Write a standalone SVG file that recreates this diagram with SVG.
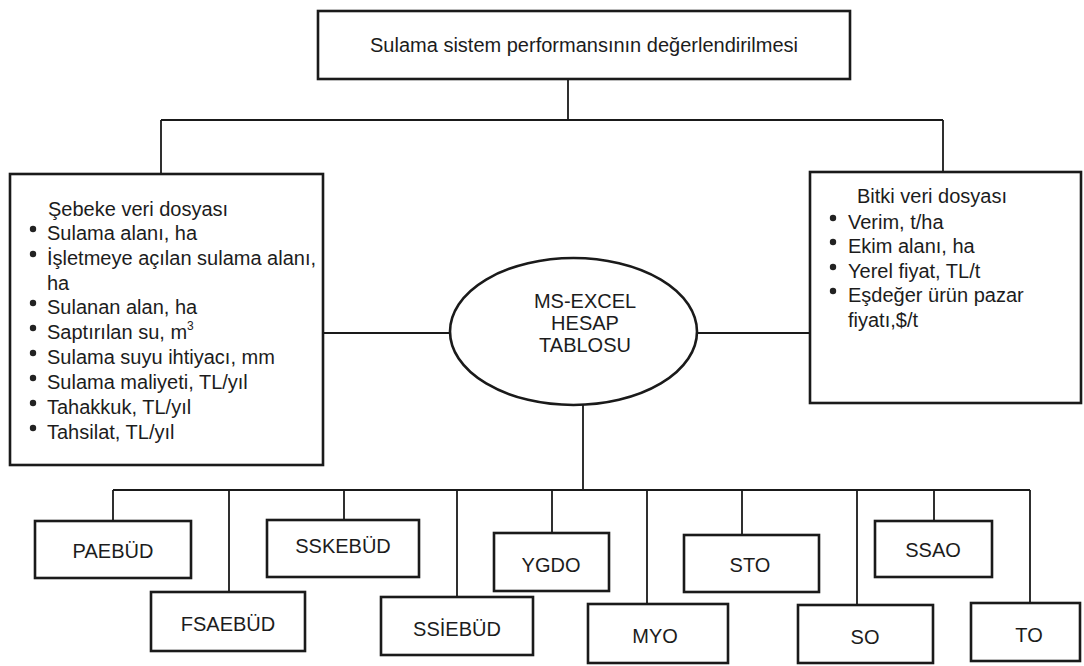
<svg xmlns="http://www.w3.org/2000/svg" width="1084" height="666" viewBox="0 0 1084 666">
<style>
text{font-family:"Liberation Sans",Arial,sans-serif;font-size:20px;fill:#1c1c1c}
.c{text-anchor:middle}
.box{fill:none;stroke:#1a1a1a;stroke-width:2.6}
.line{fill:none;stroke:#1a1a1a;stroke-width:1.8}
.bul{fill:#222}
</style>
<rect width="1084" height="666" fill="#fff"/>
<g id="connectors">
<path class="line" d="M568 79V120M161 120H943M161 120V173M943 120V172"/>
<path class="line" d="M323 333H450M697 333H810"/>
<path class="line" d="M583 405V490M113 490H1030"/>
<path class="line" d="M113 490V521M229 490V592M344 490V520M457 490V597M552 490V533M647 490V604M742 490V535M857 490V605M934 490V521M1030 490V603"/>
</g>
<g id="top">
<rect class="box" x="318" y="11" width="532" height="68" stroke-width="3"/>
<text class="c" x="584" y="52">Sulama sistem performansının değerlendirilmesi</text>
</g>
<g id="sebeke">
<rect class="box" x="10" y="174" width="313" height="291"/>
<text x="48" y="216">Şebeke veri dosyası</text>
<g class="bul">
<circle cx="33" cy="229" r="3.2"/><circle cx="33" cy="254" r="3.2"/><circle cx="33" cy="303" r="3.2"/><circle cx="33" cy="328" r="3.2"/><circle cx="33" cy="353" r="3.2"/><circle cx="33" cy="378" r="3.2"/><circle cx="33" cy="403" r="3.2"/><circle cx="33" cy="428" r="3.2"/>
</g>
<text x="47" y="240">Sulama alanı, ha</text>
<text x="47" y="265">İşletmeye açılan sulama alanı,</text>
<text x="47" y="290">ha</text>
<text x="47" y="314">Sulanan alan, ha</text>
<text x="47" y="339">Saptırılan su, m<tspan font-size="12" dy="-9">3</tspan></text>
<text x="47" y="364">Sulama suyu ihtiyacı, mm</text>
<text x="47" y="389">Sulama maliyeti, TL/yıl</text>
<text x="47" y="414">Tahakkuk, TL/yıl</text>
<text x="47" y="439">Tahsilat, TL/yıl</text>
</g>
<g id="bitki">
<rect class="box" x="810" y="172" width="271" height="231"/>
<text x="857" y="203">Bitki veri dosyası</text>
<g class="bul">
<circle cx="833" cy="218" r="3.2"/><circle cx="833" cy="242" r="3.2"/><circle cx="833" cy="267" r="3.2"/><circle cx="833" cy="291" r="3.2"/>
</g>
<text x="848" y="229">Verim, t/ha</text>
<text x="848" y="253">Ekim alanı, ha</text>
<text x="848" y="278">Yerel fiyat, TL/t</text>
<text x="848" y="302">Eşdeğer ürün pazar</text>
<text x="848" y="327">fiyatı,$/t</text>
</g>
<g id="excel">
<ellipse class="box" cx="573.5" cy="331.5" rx="123.5" ry="73.5" stroke-width="2.2"/>
<text class="c" x="585" y="308">MS-EXCEL</text>
<text class="c" x="585" y="330">HESAP</text>
<text class="c" x="585" y="352">TABLOSU</text>
</g>
<g id="paebud"><rect class="box" x="35" y="521" width="156" height="57"/><text class="c" x="113" y="558">PAEBÜD</text></g>
<g id="fsaebud"><rect class="box" x="151" y="592" width="154" height="59"/><text class="c" x="228" y="631">FSAEBÜD</text></g>
<g id="sskebud"><rect class="box" x="267" y="520" width="152" height="57"/><text class="c" x="343" y="553">SSKEBÜD</text></g>
<g id="ssiebud"><rect class="box" x="381" y="597" width="152" height="58"/><text class="c" x="457" y="636">SSİEBÜD</text></g>
<g id="ygdo"><rect class="box" x="494" y="533" width="115" height="58"/><text class="c" x="551" y="572">YGDO</text></g>
<g id="myo"><rect class="box" x="588" y="604" width="140" height="59"/><text class="c" x="655" y="643">MYO</text></g>
<g id="sto"><rect class="box" x="684" y="535" width="135" height="57"/><text class="c" x="750" y="572">STO</text></g>
<g id="so"><rect class="box" x="798" y="605" width="135" height="58"/><text class="c" x="865" y="644">SO</text></g>
<g id="ssao"><rect class="box" x="875" y="521" width="117" height="56"/><text class="c" x="933" y="557">SSAO</text></g>
<g id="to"><rect class="box" x="971" y="603" width="109" height="58"/><text class="c" x="1029" y="642">TO</text></g>
</svg>
